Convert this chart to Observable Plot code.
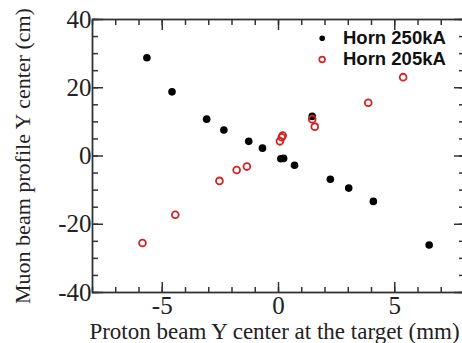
<!DOCTYPE html>
<html>
<head>
<meta charset="utf-8">
<script src="https://cdn.jsdelivr.net/npm/d3@7"></script>
<script src="https://cdn.jsdelivr.net/npm/@observablehq/plot@0.6"></script>
<style>
  html, body { margin: 0; padding: 0; background: #fff; overflow: hidden; }
  #chart svg { max-width: none !important; }
</style>
</head>
<body>
<div id="chart"></div>
<script>
// Horn 250kA (filled black)
const x250 = [-5.66, -4.58, -3.09, -2.35, -1.28, -0.69, 0.10, 0.22, 0.69, 2.23, 3.02, 4.08, 6.48, 1.45];
const y250 = [28.8, 18.8, 10.8, 7.6, 4.3, 2.3, -0.8, -0.7, -2.7, -6.8, -9.4, -13.3, -26.1, 11.6];
// Horn 205kA (open red)
const x205 = [-5.85, -4.44, -2.54, -1.80, -1.36, 0.06, 0.14, 0.18, 1.45, 1.56, 3.86, 5.36];
const y205 = [-25.5, -17.2, -7.3, -4.1, -3.1, 4.3, 5.5, 6.0, 10.8, 8.6, 15.6, 23.1];

const seriesNames = ["Horn 250kA", "Horn 205kA"];
const xMajor = [-5, 0, 5];
const xMinor = d3.range(-8, 9, 1);
const yMajor = [-40, -20, 0, 20, 40];
const yMinor = d3.range(-40, 41, 5);
const xTitle = "Proton beam Y center at the target (mm)";
const yTitle = "Muon beam profile Y center (cm)";

const d250 = x250.map((x, i) => ({x, y: y250[i]}));
const d205 = x205.map((x, i) => ({x, y: y205[i]}));

const red = "#d42121";
const axisColor = "#333";
const serif = "'Liberation Serif', 'Times New Roman', serif";
const sans = "'Liberation Sans', Arial, sans-serif";
const fmt = d => String(d);

const chart = Plot.plot({
  width: 464,
  height: 343,
  marginLeft: 92,
  marginRight: 0,
  marginTop: 19,
  marginBottom: 51,
  style: {fontFamily: serif, background: "#fff", overflow: "visible"},
  x: {domain: [-8, 8]},
  y: {domain: [-40, 40]},
  marks: [
    // minor ticks (inward), no text
    Plot.axisX(xMinor, {anchor: "bottom", tickSize: -5, fill: "none", stroke: axisColor, strokeWidth: 1.5, label: null}),
    Plot.axisX(xMinor, {anchor: "top", tickSize: -5, fill: "none", stroke: axisColor, strokeWidth: 1.5, label: null}),
    Plot.axisY(yMinor, {anchor: "left", tickSize: -6, fill: "none", stroke: axisColor, strokeWidth: 1.5, label: null}),
    Plot.axisY(yMinor, {anchor: "right", tickSize: -6, fill: "none", stroke: axisColor, strokeWidth: 1.5, label: null}),
    // major ticks
    Plot.axisX(xMajor, {anchor: "bottom", tickSize: -10, tickPadding: 14, tickFormat: fmt, fontSize: 25, fill: "#222", stroke: axisColor, strokeWidth: 1.5, label: null}),
    Plot.axisX(xMajor, {anchor: "top", tickSize: -10, fill: "none", stroke: axisColor, strokeWidth: 1.5, label: null}),
    Plot.axisY(yMajor, {anchor: "left", tickSize: -11, tickPadding: 12, tickFormat: fmt, fontSize: 25, fill: "#222", stroke: axisColor, strokeWidth: 1.5, label: null}),
    Plot.axisY(yMajor, {anchor: "right", tickSize: -11, fill: "none", stroke: axisColor, strokeWidth: 1.5, label: null}),
    Plot.frame({stroke: axisColor, strokeWidth: 1.8}),
    // data
    Plot.dot(d250, {x: "x", y: "y", r: 3.8, fill: "#000", stroke: "none"}),
    Plot.dot(d205, {x: "x", y: "y", r: 3.4, fill: "none", stroke: red, strokeWidth: 1.8}),
    // axis titles
    Plot.text([xTitle], {text: d => d, frameAnchor: "bottom", lineAnchor: "bottom", dx: -4, dy: 46, fontSize: 23, fill: "#222", fontFamily: serif}),
    Plot.text([yTitle], {text: d => d, frameAnchor: "left", textAnchor: "middle", lineAnchor: "middle", rotate: -90, dx: -70, fontSize: 22, fill: "#222", fontFamily: serif}),
    // legend
    Plot.dot([seriesNames[0]], {frameAnchor: "top-left", dx: 229.7, dy: 18.7, r: 2.8, fill: "#000"}),
    Plot.dot([seriesNames[1]], {frameAnchor: "top-left", dx: 229.7, dy: 40, r: 2.9, fill: "none", stroke: red, strokeWidth: 1.6}),
    Plot.text([seriesNames[0]], {text: d => d, frameAnchor: "top-left", dx: 250.5, dy: 18.5, textAnchor: "start", lineAnchor: "middle", fontSize: 18.5, fontWeight: "bold", fontFamily: sans, fill: "#111"}),
    Plot.text([seriesNames[1]], {text: d => d, frameAnchor: "top-left", dx: 250.5, dy: 40, textAnchor: "start", lineAnchor: "middle", fontSize: 18.5, fontWeight: "bold", fontFamily: sans, fill: "#111"})
  ]
});
document.getElementById("chart").appendChild(chart);
</script>
</body>
</html>
